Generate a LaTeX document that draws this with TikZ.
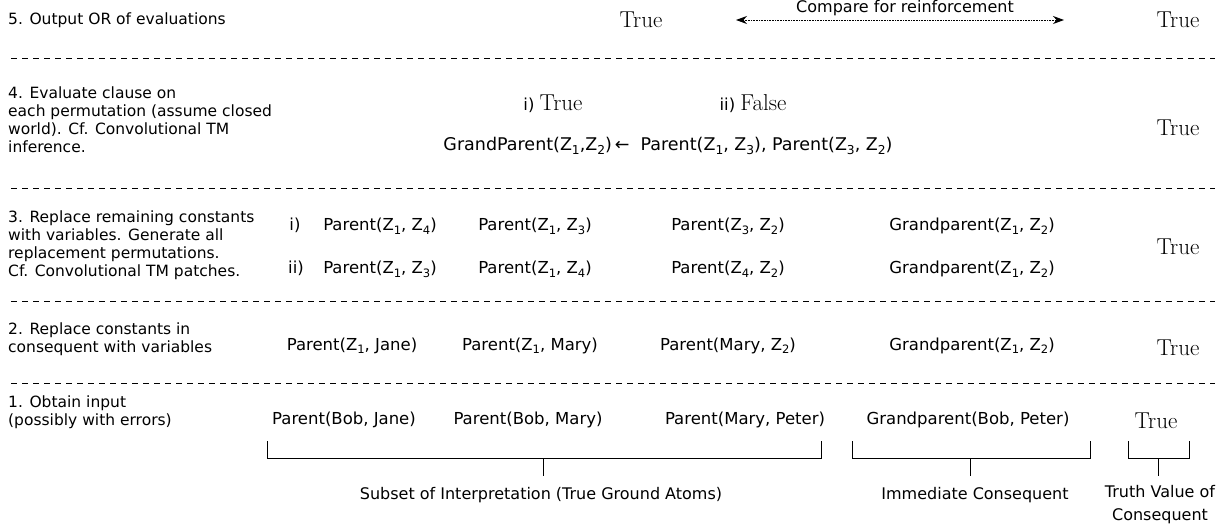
\documentclass[tikz,border=0pt]{standalone}
\usepackage{fontspec}
\newfontfamily\dv{DejaVu Sans}
\usetikzlibrary{arrows.meta}
\newcommand\zs[1]{\raisebox{-0.2em}{\fontsize{0.7em}{0.7em}\selectfont #1}}
\newcommand\tv{{\rmfamily\fontsize{23}{26}\selectfont True}}
\newcommand\fv{{\rmfamily\fontsize{23}{26}\selectfont False}}
\begin{document}
\begin{tikzpicture}[x=1pt,y=-1pt,
  txt/.style={font=\dv\fontsize{16.5}{19}\selectfont, inner sep=0pt, anchor=base},
  lbl/.style={font=\dv\fontsize{16}{23}\selectfont, inner sep=0pt, anchor=base},
  frm/.style={font=\dv\fontsize{17.5}{20}\selectfont, inner sep=0pt, anchor=base},
  lft/.style={font=\dv\fontsize{15.5}{18}\selectfont, inner sep=0pt, anchor=west, align=left},
  val/.style={font=\rmfamily\fontsize{23}{26}\selectfont, inner sep=0pt, anchor=base},
  sep/.style={draw, line width=0.8pt, dash pattern=on 6pt off 5pt},
  brk/.style={draw, line width=1pt},
  cmp/.style={draw, line width=0.8pt, dash pattern=on 0.8pt off 0.8pt,
    {Stealth[length=11pt,width=8pt]}-{Stealth[length=11pt,width=8pt]}}]
\useasboundingbox (0,0) rectangle (1223,529);

% separators
\foreach \yy/\nm in {58/s1,188/s2,301/s3,383/s4}{
  \coordinate (\nm a) at (11,\yy); \coordinate (\nm b) at (1215,\yy);
  \path[sep] (\nm a) -- (\nm b);
}

% row 5
\node[lft] (l5) at (8,20) {5. Output OR of evaluations};
\node[val] (t5a) at (641,28) {True};
\node[val] (t5b) at (1178,28) {True};
\node[lbl] (cmpl) at (905,13) {Compare for reinforcement};
\coordinate (ca) at (736,20);
\coordinate (cb) at (1064,20);
\draw[cmp] (ca) -- (cb);

% row 4
\node[lft] (l4) at (8,120) {4. Evaluate clause on\\each permutation (assume closed\\world). Cf. Convolutional TM\\inference.};
\node[txt] (e1) at (553,111) {i) \tv};
\node[txt] (e2) at (753,111) {ii) \fv};
\node[frm] (cl) at (668,151) {GrandParent(Z\zs1,Z\zs2)\,←\ \ Parent(Z\zs1, Z\zs3), Parent(Z\zs3, Z\zs2)};
\node[val] (t4) at (1178,136) {True};

% row 3
\node[lft] (l3) at (8,245) {3. Replace remaining constants\\with variables. Generate all\\replacement permutations.\\Cf. Convolutional TM patches.};
\node[txt] (r1) at (295,231) {i)};
\node[txt] (r1a) at (380,231) {Parent(Z\zs1, Z\zs4)};
\node[txt] (r1b) at (535,231) {Parent(Z\zs1, Z\zs3)};
\node[txt] (r1c) at (728,231) {Parent(Z\zs3, Z\zs2)};
\node[txt] (r1d) at (972,231) {Grandparent(Z\zs1, Z\zs2)};
\node[txt] (r2) at (296,274) {ii)};
\node[txt] (r2a) at (380,274) {Parent(Z\zs1, Z\zs3)};
\node[txt] (r2b) at (535,274) {Parent(Z\zs1, Z\zs4)};
\node[txt] (r2c) at (728,274) {Parent(Z\zs4, Z\zs2)};
\node[txt] (r2d) at (972,274) {Grandparent(Z\zs1, Z\zs2)};
\node[val] (t3) at (1178,255) {True};

% row 2
\node[lft] (l2) at (8,339) {2. Replace constants in\\consequent with variables};
\node[txt] (q1) at (352,350) {Parent(Z\zs1, Jane)};
\node[txt] (q2) at (530,350) {Parent(Z\zs1, Mary)};
\node[txt] (q3) at (728,350) {Parent(Mary, Z\zs2)};
\node[txt] (q4) at (972,350) {Grandparent(Z\zs1, Z\zs2)};
\node[val] (t2) at (1178,355) {True};

% row 1
\node[lft] (l1) at (8,412) {1. Obtain input\\(possibly with errors)};
\node[txt] (p1) at (344,424) {Parent(Bob, Jane)};
\node[txt] (p2) at (528,424) {Parent(Bob, Mary)};
\node[txt] (p3) at (745,424) {Parent(Mary, Peter)};
\node[txt] (p4) at (968,424) {Grandparent(Bob, Peter)};
\node[val] (t1) at (1156,428) {True};

% brackets
\draw[brk] (267,441) |- (821,458) -- (821,441);
\draw[brk] (852,441) |- (1090,458) -- (1090,441);
\draw[brk] (1128,441) |- (1189,458) -- (1189,441);
\coordinate (k1) at (543,458); \coordinate (k1e) at (543,476);
\coordinate (k2) at (970,458); \coordinate (k2e) at (970,476);
\coordinate (k3) at (1158,458); \coordinate (k3e) at (1158,476);
\draw[brk] (k1) -- (k1e);
\draw[brk] (k2) -- (k2e);
\draw[brk] (k3) -- (k3e);

\node[lbl] (b1) at (541,499) {Subset of Interpretation (True Ground Atoms)};
\node[lbl] (b2) at (975,499) {Immediate Consequent};
\node[lbl, align=center, anchor=north] (b3) at (1160,485) {Truth Value of\\Consequent};
\end{tikzpicture}
\end{document}
